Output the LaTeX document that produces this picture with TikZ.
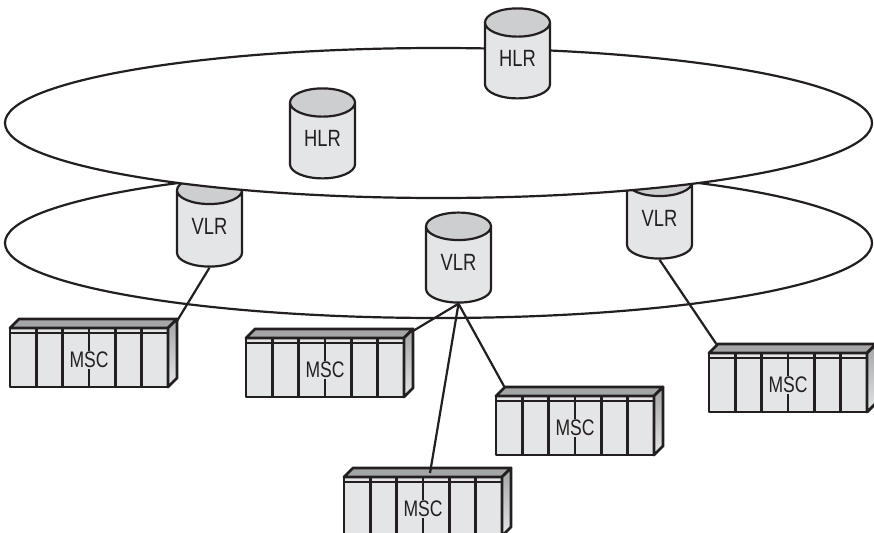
\documentclass[tikz,border=0pt]{standalone}
\usepackage{fontspec}
\setmainfont[FakeStretch=0.78]{Liberation Sans}
\usepackage{tikz}
\usetikzlibrary{shapes.geometric}
\usetikzlibrary{positioning}
\definecolor{bodygrey}{HTML}{E4E5E7}
\definecolor{capgrey}{HTML}{CDCED0}
\definecolor{topgrey}{HTML}{A4A5A7}
\definecolor{linegrey}{HTML}{231F20}
\newcommand\linewd{2.2pt}
\newcommand\rackwd{2.8pt}
\tikzstyle{graph}  = [line width=\linewd, color=linegrey, line join=round]
\tikzstyle{rackline} = [line width=\rackwd, color=linegrey, line join=round]
\tikzstyle{ring}   = [graph, draw, fill=white, ellipse, inner sep=0pt,
                      minimum width=867, minimum height=150]
\tikzstyle{drum}   = [graph, draw, cylinder, shape border rotate=90, aspect=.77, inner sep=0pt,
                      minimum width=65, minimum height=90, cylinder uses custom fill,
                      cylinder body fill=bodygrey, cylinder end fill=capgrey, text depth=6pt,
                      text=linegrey, font=\fontsize{23.5}{26}\selectfont]
\tikzstyle{rack}   = [rackline, draw, fill=bodygrey, inner sep=0pt, outer sep=0pt, anchor=north west,
                      minimum width=158, minimum height=59]
\tikzstyle{racklabel} = [fill=bodygrey, inner sep=1pt, text=linegrey,
                      font=\fontsize{22.5}{25}\selectfont]
\newcommand\mscrack[3]{
  \begin{scope}[shift={(#2,#3)}]
    \node[rack] (#1) at (0,0) {};
    \draw[rackline, fill=topgrey] (0,0) -- (9,-9) -- (167,-9) -- (158,0) -- cycle;
    \draw[rackline, top color=topgrey, bottom color=bodygrey] (158,0) -- (167,-9) -- (167,50) -- (158,59) -- cycle;
    % dividers
    \draw[rackline] (0,5) -- (158,5);
    \draw[rackline] (26.3,0) -- (26.3,59) (52.7,0) -- (52.7,59) (79,0) -- (79,59)
      (105.3,0) -- (105.3,59) (131.7,0) -- (131.7,59);
    \node[racklabel] (#1label) at (79,32) {MSC};
  \end{scope}
}
\begin{document}
\begin{tikzpicture}[x=1pt,y=-1pt]
  \useasboundingbox (0,0) rectangle (874,532);
  \clip (0,0) rectangle (874,532);
  % lower ring and what it holds
  \node[ring] (lowerring) at (438.5,243) {};
  \node[drum] (vlrA) at (209.5,229) {VLR};
  \node[drum] (vlrC) at (659.5,221) {VLR};
  \node[drum] (vlrB) at (458.5,265) {VLR};
  % upper ring
  \node[ring] (upperring) at (438.5,123) {};
  \node[drum] (hlrA) at (517.5,61) {HLR};
  \node[drum] (hlrB) at (322.5,141) {HLR};
  % switches
  \mscrack{mscA}{10}{328}
  \mscrack{mscB}{246}{338}
  \mscrack{mscC}{496}{396}
  \mscrack{mscD}{344}{477}
  \mscrack{mscE}{709}{353}
  \coordinate (mscAin) at (177,321);
  \coordinate (mscBin) at (413,331);
  \coordinate (mscCin) at (505,388);
  \coordinate (mscDin) at (430,473);
  \coordinate (mscEin) at (717,345);
  % links
  \draw[graph] (vlrA.south) -- (mscAin);
  \draw[graph] (vlrB.south) -- (mscBin);
  \draw[graph] (vlrB.south) -- (mscCin);
  \draw[graph] (vlrB.south) -- (mscDin);
  \draw[graph] (vlrC.south) -- (mscEin);
\end{tikzpicture}
\end{document}
